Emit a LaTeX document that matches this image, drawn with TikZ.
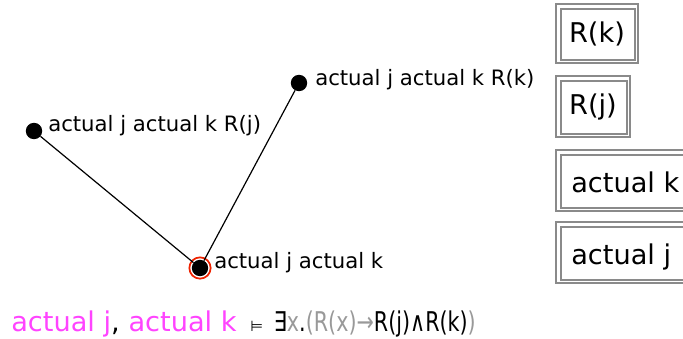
\documentclass[tikz,border=0pt]{standalone}
\usepackage{fontspec}
\setmainfont{DejaVu Sans}
\newfontfamily\narrowf[FakeStretch=0.76]{DejaVu Sans}
\definecolor{mag}{HTML}{FF44FF}
\definecolor{fgray}{HTML}{999999}
\definecolor{bgray}{HTML}{8A8A8A}
\definecolor{ring}{HTML}{EE2200}
\begin{document}
\begin{tikzpicture}[x=0.75pt,y=-0.75pt,
  dot/.style={circle,fill=black,inner sep=0pt,minimum size=12.3pt},
  lbl/.style={anchor=base west,inner sep=0pt,font=\fontsize{15.9}{18}\selectfont},
  boxtxt/.style={inner sep=0pt,font=\fontsize{20.4}{24}\selectfont},
  frame/.style={draw=bgray,line width=1pt},
  edge/.style={draw=black,line width=0.9pt}]
\useasboundingbox (0,0) rectangle (683,339);
% nodes
\node[dot] (a) at (34,131) {};
\node[dot] (b) at (299,83) {};
\node[dot] (c) at (200,268) {};
\draw[ring,line width=1.3pt] (c) circle (8pt);
\draw[edge] (a) -- (c);
\draw[edge] (b) -- (c);
\node[lbl] (la) at (48,131) {actual j actual k R(j)};
\node[lbl] (lb) at (315,85) {actual j actual k R(k)};
\node[lbl] (lc) at (214,268) {actual j actual k};
% boxes
\draw[frame] (556,4) rectangle (638,63);
\draw[frame] (561,9) rectangle (635,60);
\node[boxtxt] (bk) at (597,34) {R(k)};
\draw[frame] (556,76) rectangle (630,137);
\draw[frame] (561,81) rectangle (627,134);
\node[boxtxt] (bj) at (593,107) {R(j)};
\draw[frame] (556,150) rectangle (690,211);
\draw[frame] (561,155) rectangle (690,208);
\node[boxtxt,anchor=base west] (bak) at (571,192) {actual k};
\draw[frame] (556,222) rectangle (690,283);
\draw[frame] (561,227) rectangle (690,280);
\node[boxtxt,anchor=base west] (baj) at (571,264) {actual j};
% formula
\node[anchor=base west,inner sep=0pt,font=\fontsize{20.4}{24}\selectfont] (f) at (11,331)
  {\textcolor{mag}{actual j}, \textcolor{mag}{actual k}\hspace{0.5em}{\fontsize{11}{12}\selectfont ⊨}\hspace{0.4em}{\narrowf ∃\textcolor{fgray}{x}.\textcolor{fgray}{(R(x)→}R(j)∧R(k)\textcolor{fgray}{)}}};
\end{tikzpicture}
\end{document}
